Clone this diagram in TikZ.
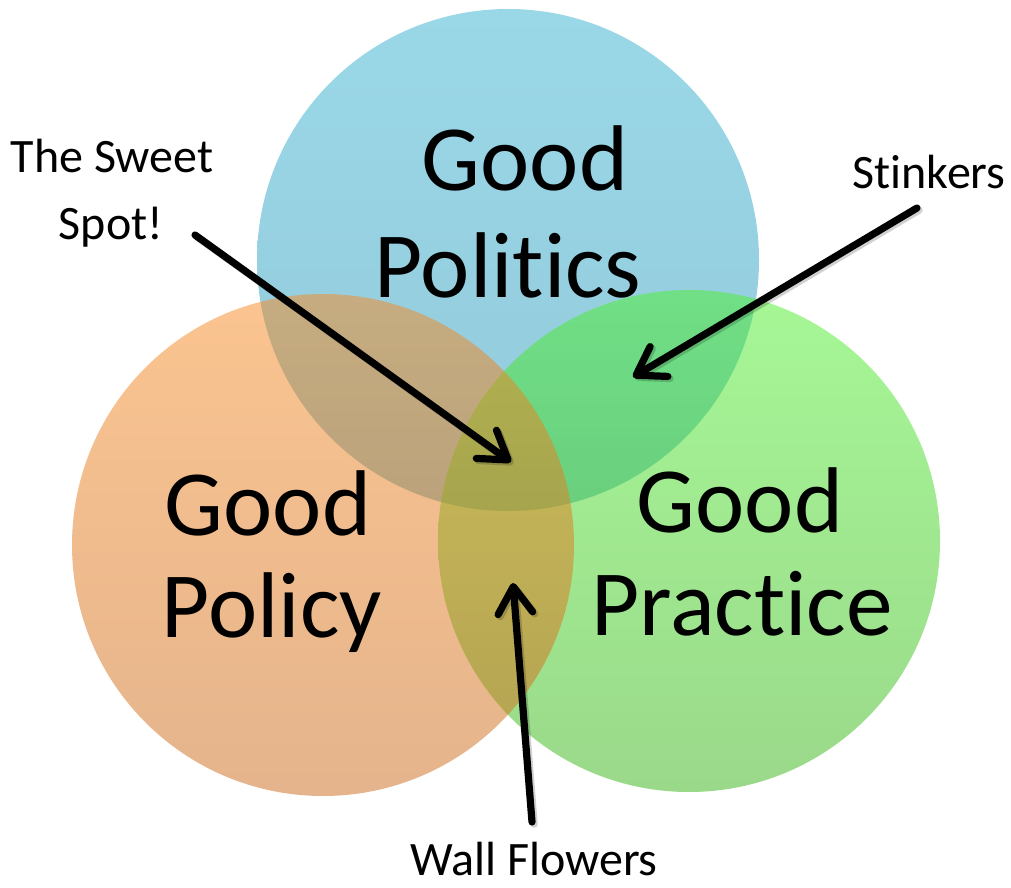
\documentclass[tikz,border=0pt]{standalone}
\usepackage{fontspec}
\setmainfont{Carlito}[RawFeature={-liga;-clig;-dlig;-calt}]
\usetikzlibrary{arrows.meta}
% pure set colours, laid down at half opacity
\definecolor{blueTop}{RGB}{53,177,209}
\definecolor{blueBot}{RGB}{39,149,181}
\definecolor{greenTop}{RGB}{77,239,45}
\definecolor{greenBot}{RGB}{53,179,21}
\definecolor{orangeTop}{RGB}{247,137,33}
\definecolor{orangeBot}{RGB}{203,105,25}
\begin{document}
\begin{tikzpicture}[x=0.75pt,y=-0.75pt,
  setdisc/.style={circle, inner sep=0pt, minimum size=376.5pt, fill opacity=0.5, draw=none},
  bigtext/.style={font=\fontsize{70}{78}\selectfont, anchor=base, inner sep=0pt},
  smalltext/.style={font=\fontsize{36}{42}\selectfont, anchor=base, inner sep=0pt},
  pointer/.style={line width=5.4pt, line cap=round,
    -{Straight Barb[length=20pt,width=26pt,round]}},
  pointershade/.style={pointer, draw=black, draw opacity=0.18,
    transform canvas={shift={(1.6pt,-1.6pt)}}}
]
\useasboundingbox (0,0) rectangle (1011,888);

% the three sets
\node[setdisc, top color=blueTop, bottom color=blueBot] (politics) at (508,260) {};
\node[setdisc, top color=greenTop, bottom color=greenBot] (practice) at (689,541) {};
\node[setdisc, top color=orangeTop, bottom color=orangeBot] (policy) at (323,545) {};

% set titles (t and i kept apart, no ligature)
\node[bigtext] (politicsA) at (525,191) {Good};
\node[bigtext] (politicsB) at (508,297) {Polit\kern0pt ics};
\node[bigtext] (policyA) at (268,535) {Good};
\node[bigtext] (policyB) at (272,637) {Policy};
\node[bigtext] (practiceA) at (740,532) {Good};
\node[bigtext] (practiceB) at (742,635) {Pract\kern0pt ice};

% call-out labels
\node[smalltext] (sweetA) at (112,173) {The Sweet};
\node[smalltext] (sweetB) at (111,240) {Spot!};
\node[smalltext] (stinkers) at (929,189) {Stinkers};
\node[smalltext] (wall) at (534,875) {Wall Flowers};

% pointer ends
\coordinate (sweetTail) at (195,235);
\coordinate (sweetTip) at (511,462);
\coordinate (stinkTail) at (917,208);
\coordinate (stinkTip) at (633,377);
\coordinate (wallTail) at (532,822);
\coordinate (wallTip) at (513,583);

% soft shadows, then the pointers
\draw[pointershade] (sweetTail) -- (sweetTip);
\draw[pointershade] (stinkTail) -- (stinkTip);
\draw[pointershade] (wallTail) -- (wallTip);
\draw[pointer] (sweetTail) -- (sweetTip);
\draw[pointer] (stinkTail) -- (stinkTip);
\draw[pointer] (wallTail) -- (wallTip);
\end{tikzpicture}
\end{document}
